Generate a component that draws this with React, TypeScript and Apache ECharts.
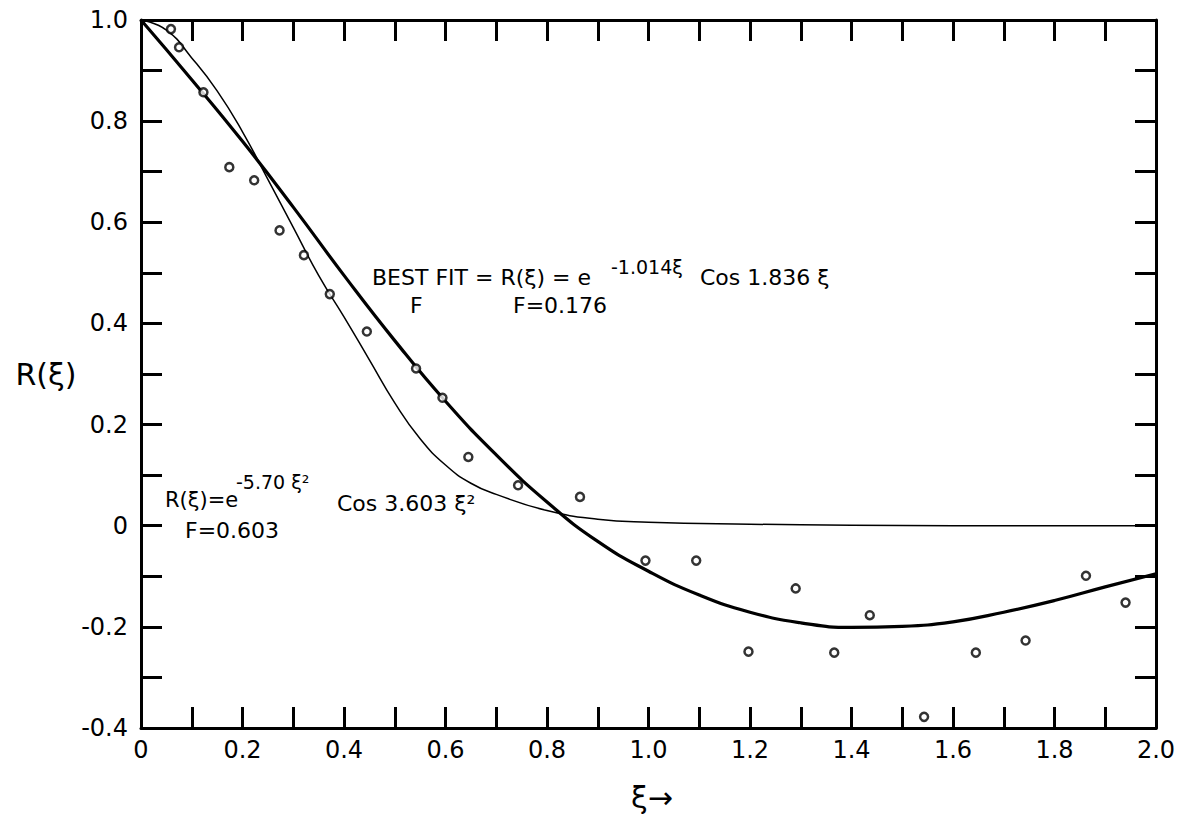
import React, { useEffect, useRef } from "react";
import * as echarts from "echarts";

// ξ sample positions for the two fitted curves
const bestFitXi = [0, 0.1, 0.2, 0.3, 0.4, 0.5, 0.6, 0.7, 0.8, 0.9, 1.0, 1.1, 1.2, 1.3, 1.4, 1.5, 1.6, 1.7, 1.8, 1.9, 2.0];
const bestFitR = [1.0, 0.882, 0.76, 0.63, 0.495, 0.366, 0.246, 0.14, 0.047, -0.031, -0.09, -0.137, -0.171, -0.192, -0.201, -0.199, -0.19, -0.171, -0.148, -0.121, -0.095];

const gaussXi = [0, 0.05, 0.1, 0.15, 0.2, 0.25, 0.3, 0.35, 0.4, 0.45, 0.5, 0.55, 0.6, 0.65, 0.7, 0.8, 0.9, 1.0, 1.2, 1.4, 1.6, 1.8, 2.0];
const gaussR = [1.0, 0.98, 0.925, 0.86, 0.779, 0.685, 0.59, 0.495, 0.413, 0.328, 0.243, 0.172, 0.12, 0.084, 0.062, 0.03, 0.013, 0.007, 0.003, 0.001, 0.0, 0.0, 0.0];

// measured points
const pointXi = [0.059, 0.075, 0.123, 0.174, 0.223, 0.273, 0.321, 0.372, 0.445, 0.542, 0.594, 0.645, 0.743, 0.865, 0.994, 1.094, 1.197, 1.29, 1.366, 1.436, 1.543, 1.645, 1.743, 1.862, 1.94];
const pointR = [0.982, 0.946, 0.857, 0.709, 0.683, 0.584, 0.535, 0.458, 0.384, 0.311, 0.253, 0.136, 0.08, 0.057, -0.069, -0.069, -0.249, -0.124, -0.251, -0.177, -0.378, -0.251, -0.227, -0.099, -0.152];

const FONT = "'DejaVu Sans', 'Noto Sans', sans-serif";

const fmt = (v: number) => {
  const k = Math.round(v * 10);
  if (k % 2 !== 0) return "";
  if (k === 0) return "0";
  return (k / 10).toFixed(1);
};

const zip = (xs: number[], ys: number[]) => xs.map((x, i) => [x, ys[i]]);

function txt(text: string, x: number, y: number, fontSize: number, align: string = "left") {
  return {
    type: "text",
    x,
    y,
    z: 100,
    silent: true,
    style: {
      text,
      fill: "#000",
      fontSize,
      fontFamily: FONT,
      align,
      textAlign: align,
      verticalAlign: "middle",
      textVerticalAlign: "middle",
    },
  };
}

export default function App() {
  const ref = useRef<HTMLDivElement>(null);

  useEffect(() => {
    if (!ref.current) return;
    const chart = echarts.init(ref.current, undefined, { renderer: "svg" });

    const axisLine = { show: true, onZero: false, lineStyle: { color: "#000", width: 3 } };
    const axisTick = { show: true, inside: true, length: 21, lineStyle: { color: "#000", width: 3 } };

    const option: any = {
      animation: false,
      backgroundColor: "#fff",
      grid: { left: 141, right: 29, top: 20, bottom: 90, containLabel: false },
      xAxis: [
        {
          type: "value",
          min: 0,
          max: 2,
          interval: 0.1,
          position: "bottom",
          axisLine,
          axisTick,
          splitLine: { show: false },
          axisLabel: { formatter: fmt, fontSize: 24, color: "#000", fontFamily: FONT, margin: 10 },
        },
        {
          type: "value",
          min: 0,
          max: 2,
          interval: 0.1,
          position: "top",
          axisLine,
          axisTick,
          splitLine: { show: false },
          axisLabel: { show: false },
        },
      ],
      yAxis: [
        {
          type: "value",
          min: -0.4,
          max: 1,
          interval: 0.1,
          position: "left",
          axisLine,
          axisTick,
          splitLine: { show: false },
          axisLabel: { formatter: fmt, fontSize: 24, color: "#000", fontFamily: FONT, margin: 13 },
        },
        {
          type: "value",
          min: -0.4,
          max: 1,
          interval: 0.1,
          position: "right",
          axisLine,
          axisTick,
          splitLine: { show: false },
          axisLabel: { show: false },
        },
      ],
      series: [
        {
          name: "Best fit",
          type: "line",
          data: zip(bestFitXi, bestFitR),
          smooth: 0.5,
          showSymbol: false,
          lineStyle: { color: "#000", width: 3.2 },
          z: 3,
        },
        {
          name: "Gaussian fit",
          type: "line",
          data: zip(gaussXi, gaussR),
          smooth: 0.5,
          showSymbol: false,
          lineStyle: { color: "#000", width: 1.5 },
          z: 3,
        },
        {
          name: "Measured",
          type: "scatter",
          data: zip(pointXi, pointR),
          symbol: "circle",
          symbolSize: 8,
          itemStyle: { color: "#fff", borderColor: "#000", borderWidth: 2.5 },
          z: 5,
        },
      ],
      graphic: [
        txt("R(ξ)", 46, 374, 30, "center"),
        txt("ξ→", 652, 797, 30, "center"),
        txt("BEST FIT = R(ξ) = e", 372, 277, 22),
        txt("-1.014ξ", 611, 267, 19),
        txt("Cos 1.836 ξ", 700, 277, 22),
        txt("F", 410, 305, 22),
        txt("F=0.176", 513, 305, 22),
        txt("R(ξ)=e", 165, 500, 21),
        txt("-5.70 ξ²", 236, 482, 19),
        txt("Cos 3.603 ξ²", 337, 503, 22),
        txt("F=0.603", 185, 530, 22),
      ],
    };

    chart.setOption(option);
    return () => chart.dispose();
  }, []);

  return (
    <div
      ref={ref}
      style={{ position: "fixed", left: 0, top: 0, width: 1185, height: 818, background: "#fff" }}
    />
  );
}
